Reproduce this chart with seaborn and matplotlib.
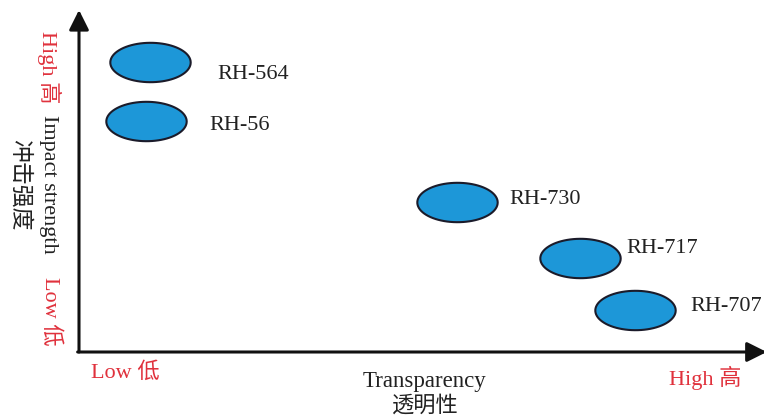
import numpy as np
import pandas as pd
import matplotlib
matplotlib.use("Agg")
import matplotlib.pyplot as plt
from matplotlib.path import Path
import seaborn as sns

# --- data: grades placed on transparency (x) vs impact strength (y), arbitrary units ---
grades = ["RH-564", "RH-56", "RH-730", "RH-717", "RH-707"]
transparency = [1.04, 0.98, 5.52, 7.31, 8.12]
impact = [4.24, 3.38, 2.19, 1.37, 0.61]
label_dx = [0.98, 0.92, 0.76, 0.68, 0.80]
label_dy = [-0.19, -0.07, 0.04, 0.14, 0.06]

df = pd.DataFrame({"grade": grades, "x": transparency, "y": impact})

sns.set_theme(style="white")
FONT = ["Liberation Serif", "Noto Sans CJK SC", "DejaVu Sans"]
CJK = ["Noto Sans CJK SC", "DejaVu Sans"]
RED = "#e0313c"

fig = plt.figure(figsize=(7.64, 4.17), dpi=100)
ax = fig.add_axes([79 / 764, 65 / 417, 685 / 764, 342 / 417])
ax.set_xlim(0, 10)
ax.set_ylim(0, 5)

# elliptical marker
t = np.linspace(0, 2 * np.pi, 80)
ell = Path(np.column_stack([np.cos(t), 0.49 * np.sin(t)]), closed=True)
sns.scatterplot(data=df, x="x", y="y", marker=ell, s=3350, color="#1d97d8",
                edgecolor="#1b1b2a", linewidth=1.5, ax=ax, legend=False, zorder=3)

for g, x, y, dx, dy in zip(grades, transparency, impact, label_dx, label_dy):
    ax.text(x + dx, y + dy, g, fontsize=16, family=FONT, color="#222222",
            ha="left", va="center")

ax.set_xlabel("")
ax.set_ylabel("")
ax.set_xticks([])
ax.set_yticks([])
for s in ax.spines.values():
    s.set_visible(False)

# axis arrows
arrow = dict(arrowstyle="-|>,head_length=1.0,head_width=0.5", lw=2.2, color="#111111",
             shrinkA=0, shrinkB=0)
ax.annotate("", xy=(0, 1.0), xytext=(0, 0), xycoords="axes fraction",
            arrowprops=arrow, annotation_clip=False)
ax.annotate("", xy=(1.004, 0), xytext=(-0.002, 0), xycoords="axes fraction",
            arrowprops=arrow, annotation_clip=False)

# axis annotations (figure pixel positions)
def ft(px, py, s, **kw):
    fig.text(px / 764, 1 - py / 417, s, ha="center", va="center", **kw)

ft(49, 67, "High 高", color=RED, fontsize=16, rotation=270, family=FONT)
ft(48, 184, "Impact strength", color="#222222", fontsize=16, rotation=270, family=FONT)
ft(20, 185, "冲击强度", color="#222222", fontsize=16.5, rotation=270, family=CJK)
ft(50, 311, "Low 低", color=RED, fontsize=16, rotation=270, family=FONT)
ft(125, 373, "Low 低", color=RED, fontsize=16, family=FONT)
ft(425, 381, "Transparency", color="#222222", fontsize=16.5, family=FONT)
ft(425, 405, "透明性", color="#222222", fontsize=16, family=CJK)
ft(705, 378, "High 高", color=RED, fontsize=16, family=FONT)

plt.savefig("out.png", dpi=100)
